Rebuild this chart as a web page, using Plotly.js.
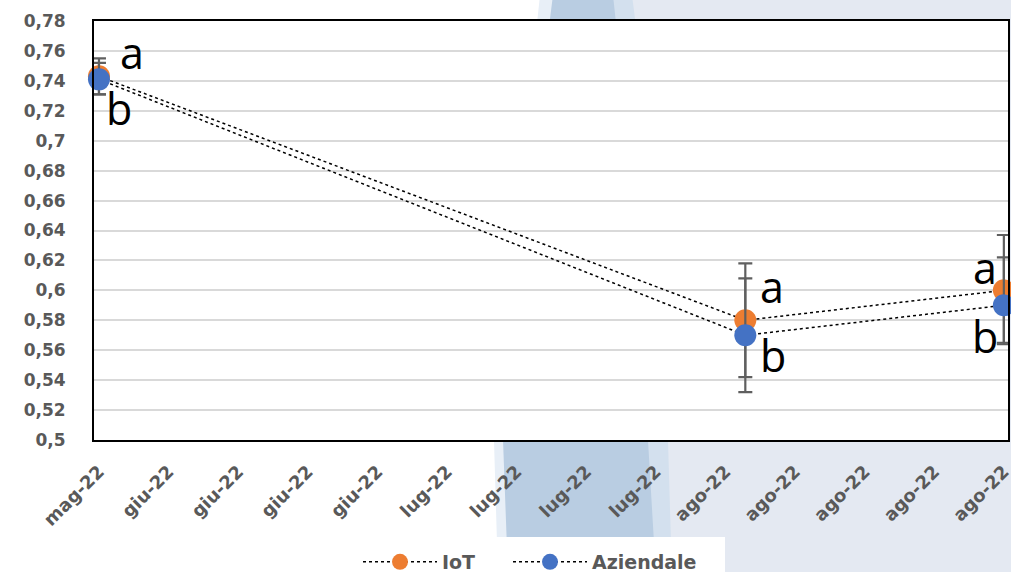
<!DOCTYPE html>
<html>
<head>
<meta charset="utf-8">
<script src="https://cdn.plot.ly/plotly-3.0.1.min.js"></script>
<style>
  html, body { margin: 0; padding: 0; background: #ffffff; }
  #chart { width: 1011px; height: 572px; }
</style>
</head>
<body>
<div id="chart"></div>
<script>
// Sampling dates
const dates = ['2022-05-31', '2022-08-04', '2022-08-30'];

// Series values
const iotValues = [0.743, 0.580, 0.600];
const iotErrPlus = [0.012, 0.038, 0.037];
const iotErrMinus = [0.012, 0.038, 0.036];

const azValues = [0.741, 0.570, 0.590];
const azErrPlus = [0.011, 0.038, 0.032];
const azErrMinus = [0.010, 0.038, 0.025];

// Significance letters
const iotLetters = ['a', 'a', 'a'];
const azLetters = ['b', 'b', 'b'];

// Axis ticks
const xTickVals = ['2022-05-31', '2022-06-07', '2022-06-14', '2022-06-21', '2022-06-28',
                   '2022-07-05', '2022-07-12', '2022-07-19', '2022-07-26',
                   '2022-08-02', '2022-08-09', '2022-08-16', '2022-08-23', '2022-08-30'];
const xTickText = ['mag-22', 'giu-22', 'giu-22', 'giu-22', 'giu-22',
                   'lug-22', 'lug-22', 'lug-22', 'lug-22',
                   'ago-22', 'ago-22', 'ago-22', 'ago-22', 'ago-22'];
const yTickVals = [0.5, 0.52, 0.54, 0.56, 0.58, 0.6, 0.62, 0.64, 0.66, 0.68, 0.7, 0.72, 0.74, 0.76, 0.78];
const yTickText = ['0,5', '0,52', '0,54', '0,56', '0,58', '0,6', '0,62', '0,64', '0,66', '0,68', '0,7', '0,72', '0,74', '0,76', '0,78'];

const ORANGE = '#ED7D31';
const BLUE = '#4472C4';
const LABEL_GREY = '#595959';
const FONT = '"DejaVu Sans", sans-serif';

// Plot area in page pixels, used to place the backdrop shapes and legends
const M = { l: 94, r: 3, t: 21, b: 132, autoexpand: false };
const W = 1011, H = 572;
const pw = W - M.l - M.r, ph = H - M.t - M.b;
const px = x => (x - M.l) / pw;
const py = y => (H - M.b - y) / ph;
const pathOf = pts => 'M' + pts.map(p => px(p[0]).toFixed(4) + ',' + py(p[1]).toFixed(4)).join(' L') + ' Z';

const shapes = [
  // pale slide backdrop on the right
  { type: 'rect', xref: 'paper', yref: 'paper', layer: 'below',
    x0: px(580), x1: px(W + 5), y0: py(H + 5), y1: py(-5),
    fillcolor: '#e4e9f2', line: { width: 0 } },
  // soft light fringes of the curved band
  { type: 'path', xref: 'paper', yref: 'paper', layer: 'below',
    path: pathOf([[600, -5], [632, -5], [658, 200], [668, 440], [672, 577], [640, 577], [640, 440], [620, 200]]),
    fillcolor: '#d3e0ee', line: { width: 0 } },
  { type: 'path', xref: 'paper', yref: 'paper', layer: 'below',
    path: pathOf([[540, -5], [556, -5], [530, 200], [506, 440], [510, 577], [498, 577], [494, 440], [518, 200]]),
    fillcolor: '#e8eff7', line: { width: 0 } },
  // curved blue band
  { type: 'path', xref: 'paper', yref: 'paper', layer: 'below',
    path: pathOf([[553, -5], [613, -5], [635, 200], [648, 440], [656, 577], [508, 577], [503, 440], [527, 200]]),
    fillcolor: '#b9cde2', line: { width: 0 } },
  // white plotting area
  { type: 'rect', xref: 'paper', yref: 'paper', layer: 'below',
    x0: 0, x1: 1, y0: 0, y1: 1, fillcolor: '#ffffff', line: { width: 0 } },
  // white legend panel
  { type: 'rect', xref: 'paper', yref: 'paper', layer: 'below',
    x0: px(330), x1: px(725), y0: py(H + 5), y1: py(537),
    fillcolor: '#ffffff', line: { width: 0 } }
];

function letterNotes(values, letters, dx, dy) {
  return values.map((v, i) => ({
    x: dates[i], y: v, xref: 'x', yref: 'y',
    text: letters[i], showarrow: false,
    xshift: dx[i], yshift: dy[i],
    font: { family: '"Open Sans", sans-serif', size: 43, color: '#000000' }
  }));
}

const annotations = [].concat(
  letterNotes(iotValues, iotLetters, [33, 27, -19], [24, 34, 23]),
  letterNotes(azValues, azLetters, [20, 28, -19], [-29, -20, -31])
);

const errStyle = (plus, minus) => ({
  type: 'data', symmetric: false, array: plus, arrayminus: minus,
  color: '#5f5f5f', thickness: 2.2, width: 7, visible: true
});

const traces = [
  {
    name: 'IoT', x: dates, y: iotValues, type: 'scatter', mode: 'lines+markers',
    line: { color: '#000000', width: 1.5, dash: 'dot' },
    marker: { color: ORANGE, size: 22 },
    error_y: errStyle(iotErrPlus, iotErrMinus),
    cliponaxis: false,
    legend: 'legend'
  },
  {
    name: 'Aziendale', x: dates, y: azValues, type: 'scatter', mode: 'lines+markers',
    line: { color: '#000000', width: 1.5, dash: 'dot' },
    marker: { color: BLUE, size: 22 },
    error_y: errStyle(azErrPlus, azErrMinus),
    cliponaxis: false,
    legend: 'legend2'
  }
];

const legendBase = {
  orientation: 'h', xanchor: 'left', y: py(562), yanchor: 'middle',
  bgcolor: 'rgba(0,0,0,0)',
  font: { family: FONT, size: 19, color: LABEL_GREY, weight: 'bold' },
  itemwidth: 74
};

const layout = {
  width: W, height: H,
  margin: M,
  paper_bgcolor: 'rgba(0,0,0,0)',
  plot_bgcolor: 'rgba(0,0,0,0)',
  font: { family: FONT, color: LABEL_GREY },
  showlegend: true,
  legend: Object.assign({}, legendBase, { x: px(358) }),
  legend2: Object.assign({}, legendBase, { x: px(508) }),
  xaxis: {
    type: 'date',
    range: ['2022-05-30 12:00', '2022-08-30 10:00'],
    tickmode: 'array', tickvals: xTickVals, ticktext: xTickText,
    tickangle: -45,
    tickfont: { family: FONT, size: 18, color: LABEL_GREY, weight: 'bold' },
    ticklabeloverflow: 'allow',
    ticklabelstandoff: 12,
    showgrid: false, zeroline: false,
    showline: true, linecolor: '#000000', linewidth: 2, mirror: true,
    ticks: ''
  },
  yaxis: {
    range: [0.5, 0.78],
    tickmode: 'array', tickvals: yTickVals, ticktext: yTickText,
    tickfont: { family: FONT, size: 17, color: LABEL_GREY, weight: 'bold' },
    showgrid: true, gridcolor: '#d9d9d9', gridwidth: 2,
    zeroline: false,
    showline: true, linecolor: '#000000', linewidth: 2, mirror: true,
    ticks: '', ticklabelstandoff: 23
  },
  shapes: shapes,
  annotations: annotations
};

Plotly.newPlot('chart', traces, layout, { displayModeBar: false, staticPlot: true });
</script>
</body>
</html>
